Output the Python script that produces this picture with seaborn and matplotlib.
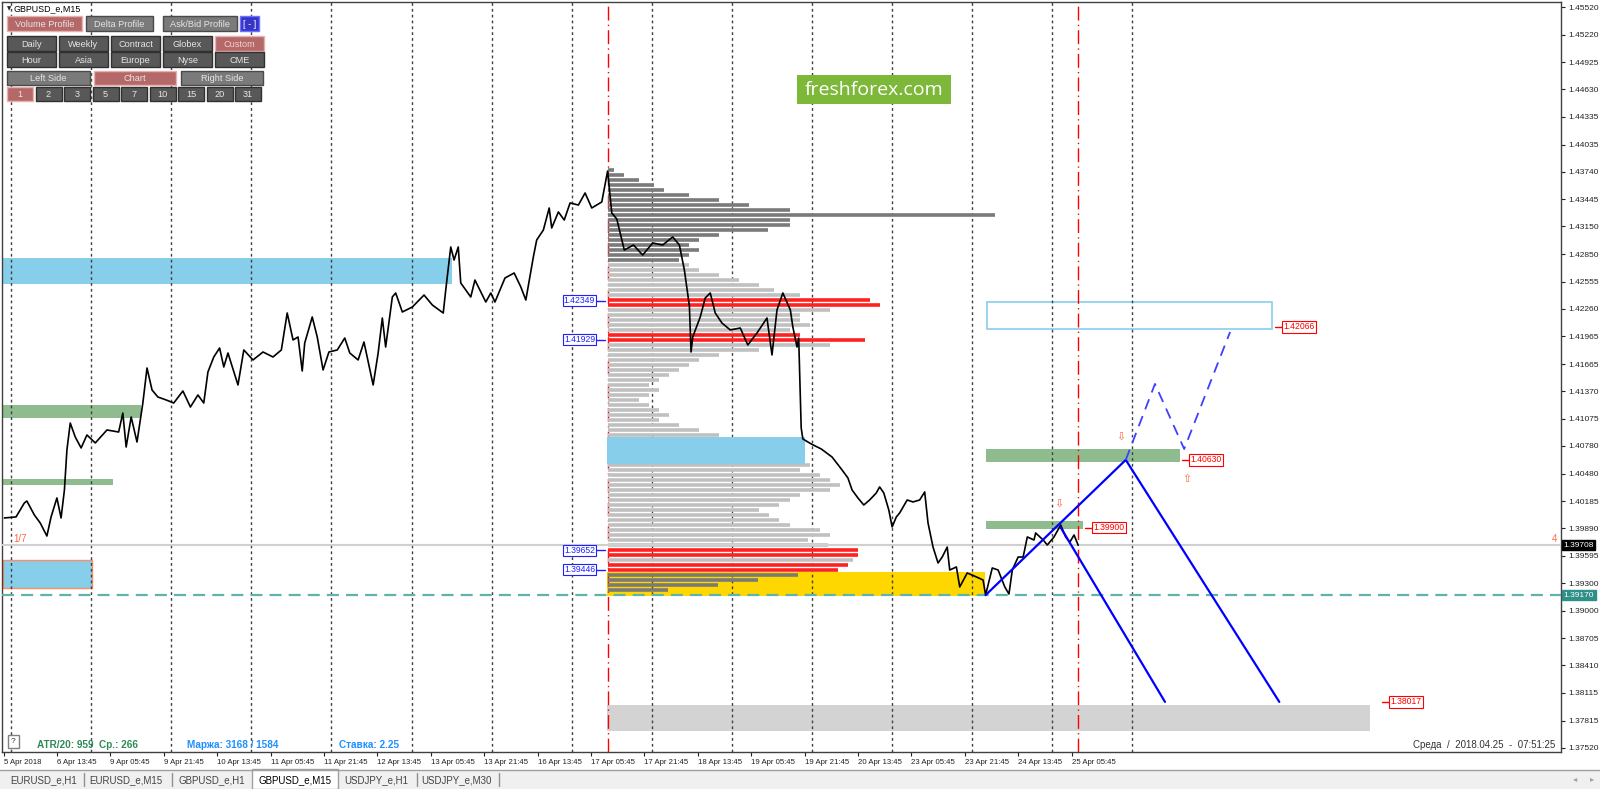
import numpy as np
import matplotlib
matplotlib.use("Agg")
import matplotlib.pyplot as plt
from matplotlib.patches import Rectangle
import seaborn as sns

# ---------------- data ----------------
# x axis = M15 bar number, bar 0 = 6 Apr 2018 00:00 (weekends skipped, 96 bars a day)
price_bars = [-8, 6, 16, 19, 28, 35, 43, 48, 55, 60, 64, 67, 71, 77, 84, 91, 101, 115, 129, 134,
              138, 144, 151, 158, 163, 169, 176, 186, 195, 206, 215, 224, 231, 236, 243, 250, 255,
              260, 272, 279, 290, 302, 314, 324, 331, 338, 344, 349, 352, 361, 367, 374, 381, 391,
              400, 406, 416, 423, 434, 440, 445, 449, 457, 461, 469, 481, 495, 505, 518, 521, 527,
              531, 536, 539, 551, 556, 569, 575, 580, 592, 603, 611, 617, 626, 630, 638, 645, 648,
              656, 663, 670, 680, 688, 696, 708, 715, 720, 726, 735, 746, 757, 769, 781, 793, 801,
              807, 813, 815, 817, 826, 832, 838, 844, 852, 862, 874, 883, 894, 906, 912, 918, 925,
              934, 937, 942, 944, 947, 949, 959, 971, 984, 996, 1003, 1008, 1015, 1022, 1029, 1037,
              1041, 1046, 1052, 1056, 1061, 1065, 1074, 1081, 1089, 1095, 1099, 1105, 1111, 1116,
              1122, 1125, 1133, 1137, 1146, 1157, 1165, 1168, 1176, 1183, 1191, 1196, 1200, 1207,
              1213, 1218, 1226, 1228, 1237, 1242, 1250, 1258, 1264, 1269, 1274, 1279]
price_close = [1.40003, 1.40014, 1.40165, 1.40186, 1.40035, 1.39949, 1.39808, 1.40014, 1.40219,
               1.40003, 1.40305, 1.40737, 1.41028, 1.40877, 1.40759, 1.40899, 1.40813, 1.40953,
               1.40931, 1.41136, 1.40769, 1.41093, 1.40823, 1.41244, 1.41622, 1.41385, 1.41309,
               1.41277, 1.41244, 1.41374, 1.41201, 1.41331, 1.41244, 1.41579, 1.41741, 1.41838,
               1.41633, 1.41784, 1.41439, 1.41817, 1.41709, 1.41795, 1.41741, 1.41817, 1.42216,
               1.41925, 1.41957, 1.41590, 1.41892, 1.42173, 1.41957, 1.41601, 1.41795, 1.41817,
               1.41946, 1.41784, 1.41709, 1.41903, 1.41439, 1.41784, 1.42162, 1.41849, 1.42389,
               1.42432, 1.42227, 1.42281, 1.42410, 1.42302, 1.42216, 1.42464, 1.42929, 1.42788,
               1.42929, 1.42540, 1.42389, 1.42572, 1.42335, 1.42432, 1.42335, 1.42594, 1.42648,
               1.42497, 1.42356, 1.42821, 1.43004, 1.43112, 1.43350, 1.43134, 1.43307, 1.43220,
               1.43404, 1.43382, 1.43512, 1.43350, 1.43415, 1.43749, 1.43296, 1.43231, 1.42896,
               1.42950, 1.42842, 1.42972, 1.42950, 1.43037, 1.42950, 1.42680, 1.42292, 1.41795,
               1.41957, 1.42173, 1.42378, 1.42432, 1.42216, 1.42108, 1.42033, 1.42054, 1.41871,
               1.42000, 1.42162, 1.41763, 1.42249, 1.42432, 1.42249, 1.42065, 1.41849, 1.41946,
               1.40975, 1.40856, 1.40802, 1.40748, 1.40661, 1.40521, 1.40435, 1.40305, 1.40219,
               1.40143, 1.40197, 1.40273, 1.40338, 1.40273, 1.40089, 1.39906, 1.40014, 1.40057,
               1.40197, 1.40176, 1.40197, 1.40284, 1.39949, 1.39689, 1.39517, 1.39581, 1.39689,
               1.39441, 1.39474, 1.39258, 1.39409, 1.39366, 1.39333, 1.39171, 1.39463, 1.39441,
               1.39258, 1.39182, 1.39441, 1.39581, 1.39581, 1.39798, 1.39765, 1.39841, 1.39765,
               1.39711, 1.39798, 1.39927, 1.39798, 1.39743, 1.39819, 1.39708]

day_start_bars = [0, 96, 192, 288, 384, 480, 576, 672, 768, 864, 960, 1056, 1152, 1248, 1344]
marker_bars = [715, 1279]

x_tick_bars = [-8, 55, 119, 183, 247, 311, 375, 439, 503, 567, 631, 695, 759, 823, 887, 951,
               1015, 1079, 1143, 1207, 1271]
x_tick_labels = ["5 Apr 2018", "6 Apr 13:45", "9 Apr 05:45", "9 Apr 21:45", "10 Apr 13:45",
                 "11 Apr 05:45", "11 Apr 21:45", "12 Apr 13:45", "13 Apr 05:45", "13 Apr 21:45",
                 "16 Apr 13:45", "17 Apr 05:45", "17 Apr 21:45", "18 Apr 13:45", "19 Apr 05:45",
                 "19 Apr 21:45", "20 Apr 13:45", "23 Apr 05:45", "23 Apr 21:45", "24 Apr 13:45",
                 "25 Apr 05:45"]
y_ticks = [1.45520, 1.45220, 1.44925, 1.44630, 1.44335, 1.44035, 1.43740, 1.43445, 1.43150,
           1.42850, 1.42555, 1.42260, 1.41965, 1.41665, 1.41370, 1.41075, 1.40780, 1.40480,
           1.40185, 1.39890, 1.39595, 1.39300, 1.39000, 1.38705, 1.38410, 1.38115, 1.37815,
           1.37520]

bid_price = 1.39708
support_price = 1.39170

# volume profile (custom range starting at bar 715), row length in bars
profile_start = 715
profile_top = 1.43760
profile_step = 0.00054
profile_len = [8, 20, 38, 56, 68, 98, 134, 170, 218, 464, 218, 218, 192, 134, 110, 98, 110, 98, 86,
               98, 110, 134, 158, 182, 200, 230, 314, 326, 266, 230, 230, 242, 218, 230, 308, 266,
               182, 134, 110, 98, 86, 74, 62, 50, 62, 50, 38, 50, 62, 74, 62, 86, 110, 134, 182,
               206, 194, 218, 230, 242, 230, 254, 266, 278, 266, 230, 218, 206, 182, 194, 206, 218,
               254, 266, 240, 264, 300, 300, 294, 288, 276, 228, 180, 132, 72]
value_area = (1.3947, 1.4275)
volume_nodes = [1.42349, 1.41929, 1.39652, 1.39446]

# zones: (bar from, bar to, price low, price high)
blue_zones = [(-10, 528, 1.42529, 1.42810), (-10, 97, 1.39247, 1.39549), (714, 952, 1.40586, 1.40877)]
green_zones = [(-10, 156, 1.41082, 1.41223), (-10, 122, 1.40359, 1.40424),
               (1168, 1401, 1.40607, 1.40748), (1168, 1285, 1.39884, 1.39970)]
yellow_zone = (714, 1167, 1.39160, 1.39420)
gray_zone = (714, 1629, 1.37703, 1.37984)
target_box = (1170, 1511, 1.42043, 1.42335)

# projected paths
path1_bars = [1168, 1336, 1520]
path1_price = [1.39170, 1.40630, 1.38017]
path2_bars = [1258, 1383]
path2_price = [1.39900, 1.38017]
alt_bars = [1336, 1371, 1406, 1461]
alt_price = [1.40630, 1.41450, 1.40748, 1.42011]

target_levels = [1.42066, 1.40630, 1.39900, 1.38017]
target_bars = [1515, 1403, 1287, 1643]

# ---------------- figure ----------------
sns.set_style("white")
plt.rcParams["font.family"] = ["Liberation Sans", "DejaVu Sans"]

W, H = 1600, 789
fig = plt.figure(figsize=(W / 100, H / 100), dpi=100)
fig.patch.set_facecolor("white")
ax = fig.add_axes([2 / W, 37 / H, 1559 / W, 750 / H])
ax.set_xlim(-10.8, 1857.6)
ax.set_ylim(1.37476, 1.45574)

def box(zone, **kw):
    x0, x1, lo, hi = zone
    ax.add_patch(Rectangle((x0, lo), x1 - x0, hi - lo, **kw))

box(blue_zones[0], fc="#87CEEB", ec="none", zorder=1)
box(blue_zones[1], fc="#87CEEB", ec="#FF8C69", lw=1, zorder=1)
for z in green_zones:
    box(z, fc="#8FBC8F", ec="none", zorder=1)
box(yellow_zone, fc="#FFD700", ec="none", zorder=1)
box(gray_zone, fc="#D3D3D3", ec="none", zorder=1)
box(target_box, fc="none", ec="#87CEEB", lw=1.2, zorder=1)

# day separators and range markers
for b in day_start_bars:
    ax.axvline(b, color="#404040", lw=1, ls=(0, (2, 2.2)), zorder=1.5)
for b in marker_bars:
    ax.axvline(b, color="#FF0000", lw=1, ls=(0, (10, 3, 1, 3)), zorder=1.5)

# volume profile
levels = profile_top - profile_step * np.arange(len(profile_len))
for lvl, ln in zip(levels, profile_len):
    if min(abs(lvl - v) for v in volume_nodes) < 0.0005:
        c = "#FF2020"
    elif value_area[0] <= lvl <= value_area[1]:
        c = "#C0C0C0"
    else:
        c = "#7A7A7A"
    ax.hlines(lvl, profile_start, profile_start + ln, colors=c, lw=2.6, zorder=2)
box(blue_zones[2], fc="#87CEEB", ec="none", zorder=2.5)

ax.axhline(bid_price, color="#D0D0D0", lw=1.5, zorder=2.6)
ax.axhline(support_price, color="#5FB3AC", lw=1.6, ls=(0, (5.4, 3.2)), zorder=2.6)

sns.lineplot(x=price_bars, y=price_close, ax=ax, color="black", lw=1.2, sort=False,
             estimator=None, zorder=4)

ax.plot(path1_bars, path1_price, color="#0000FF", lw=1.6, zorder=5)
ax.plot(path2_bars, path2_price, color="#0000FF", lw=1.6, zorder=5)
ax.plot(alt_bars, alt_price, color="#3F3FFF", lw=1.3, ls=(0, (6, 4)), zorder=5)

# level labels
for lvl, b in zip(target_levels, target_bars):
    ax.plot([b, b + 10], [lvl, lvl], color="red", lw=1, zorder=5)
    ax.text(b + 10, lvl, f"{lvl:.5f}", color="red", fontsize=6.2, va="center", ha="left",
            zorder=6, bbox=dict(boxstyle="square,pad=0.15", fc="white", ec="red", lw=0.8))
for lvl in volume_nodes:
    ax.plot([700, 712], [lvl, lvl], color="#2020FF", lw=1, zorder=5)
    ax.text(700, lvl, f"{lvl:.5f}", color="#2020FF", fontsize=6.2, va="center", ha="right",
            zorder=6, bbox=dict(boxstyle="square,pad=0.15", fc="white", ec="#2020FF", lw=0.8))

ax.text(1330, 1.40877, "\u21e9", color="#FF6347", fontsize=8, ha="center", va="center",
        family="DejaVu Sans", zorder=6)
ax.text(1256, 1.40154, "\u21e9", color="#FF6347", fontsize=8, ha="center", va="center",
        family="DejaVu Sans", zorder=6)
ax.text(1409, 1.40424, "\u21e7", color="#FF6347", fontsize=8, ha="center", va="center",
        family="DejaVu Sans", zorder=6)

# axes
ax.yaxis.tick_right()
ax.set_yticks(y_ticks)
ax.set_yticklabels([f"{v:.5f}" for v in y_ticks])
ax.set_xticks(x_tick_bars)
ax.set_xticklabels(x_tick_labels, ha="left")
ax.tick_params(axis="y", labelsize=6, length=3, width=0.8, pad=2, colors="#222222",
               right=True, left=False)
ax.tick_params(axis="x", labelsize=5.6, length=3, width=0.8, pad=2, colors="#222222",
               bottom=True)
for s in ax.spines.values():
    s.set_color("#404040")
    s.set_linewidth(1)
ax.set_xlabel("")
ax.set_ylabel("")

ytr = ax.get_yaxis_transform()
ax.text(1.0015, bid_price, f"{bid_price:.5f}", transform=ytr, color="white", fontsize=6,
        va="center", ha="left", bbox=dict(boxstyle="square,pad=0.2", fc="black", ec="black"))
ax.text(1.0015, support_price, f"{support_price:.5f}", transform=ytr, color="white", fontsize=6,
        va="center", ha="left", bbox=dict(boxstyle="square,pad=0.2", fc="#2F8F89", ec="#2F8F89"))

# ---------------- terminal decorations (pixel coordinates) ----------------
ui = fig.add_axes([0, 0, 1, 1], zorder=10)
ui.set_xlim(0, W)
ui.set_ylim(H, 0)
ui.axis("off")
ui.patch.set_alpha(0)

def button(x0, y0, x1, y1, text, fc, ec, tc="#E6E6E6"):
    ui.add_patch(Rectangle((x0, y0), x1 - x0, y1 - y0, fc=fc, ec=ec, lw=1))
    ui.text((x0 + x1) / 2, (y0 + y1) / 2 + 0.5, text, color=tc, fontsize=6.6,
            ha="center", va="center")

red_fc, red_ec = "#B56868", "#E8B0B0"
ui.text(7, 9, "\u25bc", fontsize=4, ha="left", va="center", family="DejaVu Sans")
ui.text(13, 9, "GBPUSD_e,M15", fontsize=6.4, ha="left", va="center", color="black")
button(7, 16, 82, 31, "Volume Profile", red_fc, red_ec)
button(86, 16, 153, 31, "Delta Profile", "#7A7A7A", "#4A4A4A")
button(163, 16, 237, 31, "Ask/Bid Profile", "#7A7A7A", "#4A4A4A")
button(240, 16, 259, 31, "[ - ]", "#3535C8", "#7070FF", "white")
for i, t in enumerate(["Daily", "Weekly", "Contract", "Globex", "Custom"]):
    x0 = 7 + i * 52
    if t == "Custom":
        button(x0, 36, x0 + 49, 51, t, red_fc, red_ec, "#F0D0D0")
    else:
        button(x0, 36, x0 + 49, 51, t, "#585858", "#303030")
for i, t in enumerate(["Hour", "Asia", "Europe", "Nyse", "CME"]):
    x0 = 7 + i * 52
    button(x0, 52, x0 + 49, 67, t, "#585858", "#303030")
button(7, 71, 90, 85, "Left Side", "#7A7A7A", "#4A4A4A")
button(94, 71, 176, 85, "Chart", red_fc, red_ec)
button(181, 71, 263, 85, "Right Side", "#7A7A7A", "#4A4A4A")
for i, t in enumerate(["1", "2", "3", "5", "7", "10", "15", "20", "31"]):
    x0 = 7 + i * 28.5
    if t == "1":
        button(x0, 87, x0 + 26, 101, t, red_fc, red_ec)
    else:
        button(x0, 87, x0 + 26, 101, t, "#585858", "#303030")

ui.add_patch(Rectangle((797, 75), 154, 29, fc="#7DB83A", ec="none"))
ui.text(874, 90, "freshforex.com", color="white", fontsize=14, ha="center", va="center",
        family=["Open Sans", "DejaVu Sans"])

ui.text(13, 539, "1/7", color="#FF6A3D", fontsize=7, ha="left", va="center")
ui.text(1555, 539, "4", color="#FF6A3D", fontsize=7, ha="center", va="center")

ui.add_patch(Rectangle((8, 735), 11, 13, fc="white", ec="#808080", lw=1))
ui.text(13.5, 741.5, "?", fontsize=6, ha="center", va="center", color="#333333")
ui.text(37, 745, "ATR/20: 959  Ср.: 266", color="#2E8B57", fontsize=7.2, fontweight="bold",
        ha="left", va="center")
ui.text(187, 745, "Маржа: 3168 / 1584", color="#1E90FF", fontsize=7.2, fontweight="bold",
        ha="left", va="center")
ui.text(339, 745, "Ставка: 2.25", color="#1E90FF", fontsize=7.2, fontweight="bold",
        ha="left", va="center")
ui.text(1555, 745, "Среда  /  2018.04.25  -  07:51:25", color="#333333", fontsize=7,
        ha="right", va="center")

# tab bar
ui.add_patch(Rectangle((0, 770), W, 19, fc="#F0F0F0", ec="none"))
ui.plot([0, W], [769.5, 769.5], color="#A0A0A0", lw=1)
ui.add_patch(Rectangle((252, 769), 86, 20, fc="white", ec="#A0A0A0", lw=1))
tabs = ["EURUSD_e,H1", "EURUSD_e,M15", "GBPUSD_e,H1", "GBPUSD_e,M15", "USDJPY_e,H1", "USDJPY_e,M30"]
tab_x = [44, 126, 212, 295, 376, 456]
for t, x in zip(tabs, tab_x):
    ui.text(x, 780, t, fontsize=7, ha="center", va="center",
            color="black" if t == "GBPUSD_e,M15" else "#444444")
for x in [84, 172, 417, 499]:
    ui.plot([x, x], [773, 786], color="#909090", lw=1)
ui.text(1575, 779, "\u25c2", fontsize=6, color="#A0A0A0", ha="center", va="center",
        family="DejaVu Sans")
ui.text(1592, 779, "\u25b8", fontsize=6, color="#A0A0A0", ha="center", va="center",
        family="DejaVu Sans")

fig.savefig("out.png", dpi=100)
